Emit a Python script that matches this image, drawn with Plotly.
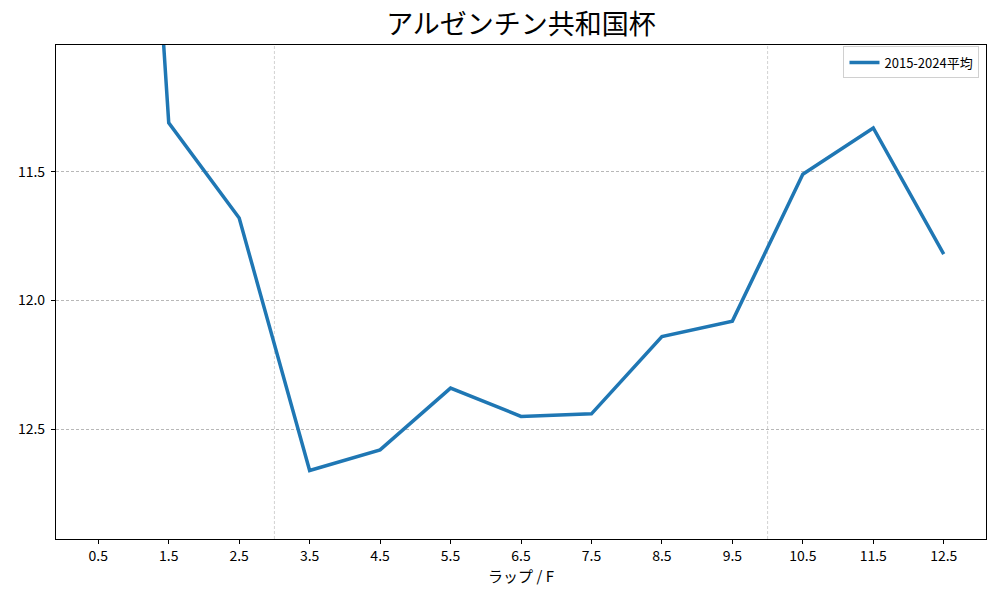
import plotly.graph_objects as go

# ラップ位置 (F) と 2015-2024 平均ラップ (秒)
furlongs = [0.5, 1.5, 2.5, 3.5, 4.5, 5.5, 6.5, 7.5, 8.5, 9.5, 10.5, 11.5, 12.5]
lap_avg = [7.10, 11.31, 11.68, 12.66, 12.58, 12.34, 12.45, 12.44, 12.14, 12.08, 11.51, 11.33, 11.82]
xtick_vals = furlongs
marker_lines = [3.0, 10.0]
y_ticks = [11.5, 12.0, 12.5]

FONT = "Noto Sans CJK JP"

fig = go.Figure()
fig.add_trace(go.Scatter(x=furlongs, y=lap_avg, mode="lines", name="2015-2024平均",
                         line=dict(color="#1f77b4", width=3.5)))

for xv in marker_lines:
    fig.add_vline(x=xv, line=dict(color="#c0c0c0", width=0.7, dash="3px,2px"), layer="below")

fig.update_xaxes(range=[-0.1, 13.1], tickvals=xtick_vals, ticktext=[f"{v:.1f}" for v in xtick_vals],
                 showgrid=False, zeroline=False, showline=True, mirror=True, linecolor="black",
                 linewidth=1.2, ticks="outside", ticklen=4, tickcolor="black",
                 tickfont=dict(size=14), automargin=False,
                 title=dict(text="ラップ / F", font=dict(size=15, family=FONT), standoff=4))
fig.update_yaxes(range=[12.926, 11.008], tickvals=y_ticks, ticktext=[f"{v:.1f}" for v in y_ticks],
                 showgrid=True, gridcolor="#b8b8b8", gridwidth=0.7, griddash="3px,2px",
                 zeroline=False, showline=True, mirror=True, linecolor="black", linewidth=1.2,
                 ticks="outside", ticklen=4, tickcolor="black", tickfont=dict(size=14),
                 ticklabelstandoff=3, automargin=False)

fig.update_layout(
    width=1000, height=600,
    title=dict(text="アルゼンチン共和国杯", x=0.513, xanchor="center", y=0.972, yanchor="middle",
               font=dict(size=27, family=FONT, color="black")),
    font=dict(family=FONT, size=13, color="black"),
    plot_bgcolor="white", paper_bgcolor="white",
    margin=dict(l=48, r=22, t=37, b=69),
    legend=dict(x=0.993, y=0.997, xanchor="right", yanchor="top", bgcolor="white",
                bordercolor="#d0d0d0", borderwidth=1, font=dict(size=13, family=FONT)),
    showlegend=True,
)

fig.write_html("out.html")
